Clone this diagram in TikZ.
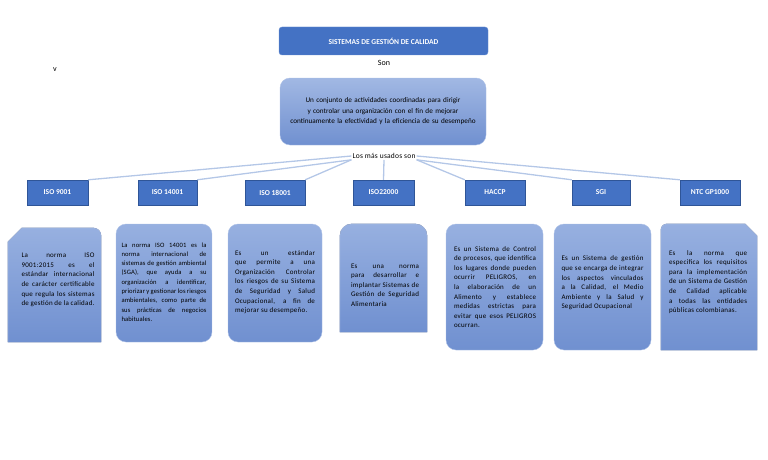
\documentclass[tikz,border=0pt]{standalone}
\usepackage{fontspec}
\setmainfont{Carlito}
\usetikzlibrary{shadows}
\definecolor{hdr}{HTML}{4472C4}
\definecolor{hdrd}{HTML}{2F5597}
\definecolor{lt}{HTML}{97B0E0}
\definecolor{ltd}{HTML}{7090D0}
\definecolor{ln}{HTML}{B4C7E7}
\lefthyphenmin=62
\righthyphenmin=62
\tikzset{
  hbox/.style={fill=hdr,draw=hdrd,text=white,font=\bfseries\fontsize{7.5}{8}\selectfont,minimum height=25pt,inner sep=1pt,drop shadow={shadow xshift=1pt,shadow yshift=-1pt,opacity=0.5}},
  dtext/.style={font=\fontsize{7}{9.6}\selectfont\addfontfeatures{LetterSpace=4},align=justify,inner sep=0pt},
  dshape/.style={top color=lt,bottom color=ltd,draw=lt!80!white},
  conn/.style={draw=ln,line width=1.3pt},
}
\begin{document}
\begin{tikzpicture}[x=1pt,y=-1pt]
\useasboundingbox (0,0) rectangle (768,460);
\node[fill=hdr,draw=hdr!80!white,rounded corners=3pt,minimum width=209pt,minimum height=28pt,text=white,font=\bfseries\fontsize{7.5}{8}\selectfont] (title) at (383.5,41) {SISTEMAS DE GESTIÓN DE CALIDAD};
\node[font=\fontsize{8}{9}\selectfont] (son) at (384,63) {Son};
\node[font=\fontsize{8}{9}\selectfont] (v) at (55,70) {v};
\node[top color=lt!90!white,bottom color=ltd,draw=lt!80!white,rounded corners=10pt,minimum width=206pt,minimum height=67pt,text width=196pt,align=center,font=\fontsize{7.2}{10.5}\selectfont] (main) at (383,111.5) {Un conjunto de actividades coordinadas para dirigir y controlar una organización con el fin de mejorar continuamente la efectividad y la eficiencia de su desempeño};
\node[font=\fontsize{7.5}{8}\selectfont\addfontfeatures{LetterSpace=3},inner sep=1pt] (mas) at (384,156) {Los más usados son};
\foreach \n/\x/\w/\t in {h1/57.5/61/ISO 9001,h2/167.5/59/ISO 14001,h3/275/60/ISO 18001,h4/383.5/61/ISO22000,h5/495/60/HACCP,h6/601/58/SGI,h7/710/60/NTC GP1000}
  \node[hbox,minimum width=\w pt] (\n) at (\x,192.5) {\t};
\draw[conn] (mas.west) -- (h1.north east);
\draw[conn] (mas.south west) -- (h2.north east);
\draw[conn] (mas.south west) -- (h3.north east);
\draw[conn] (mas.south) -- (h4.north);
\draw[conn] (mas.south east) -- (h5.north west);
\draw[conn] (mas.south east) -- (h6.north west);
\draw[conn] (mas.east) -- (h7.north west);
% description boxes
\node[minimum width=93pt,minimum height=114pt,inner sep=0pt] (d1) at (54.5,285) {};
\fill[dshape] (d1.south west) -- ([yshift=-14pt]d1.north west) -- ([xshift=14pt]d1.north west) -- ([xshift=-8pt]d1.north east) to[out=0,in=90] ([yshift=-8pt]d1.north east) -- (d1.south east) -- cycle;
\node[dtext,text width=73pt] at (58,280) {La norma ISO 9001:2015 es el estándar internacional de carácter certificable que regula los sistemas de gestión de la calidad.};
\node[dshape,rounded corners=10pt,minimum width=96pt,minimum height=118pt] (d2) at (164,283) {};
\node[dtext,text width=85pt,font=\fontsize{6.6}{9.3}\selectfont\addfontfeatures{LetterSpace=2}] at (164,282) {La norma ISO 14001 es la norma internacional de sistemas de gestión ambiental (SGA), que ayuda a su organización a identificar, priorizar y gestionar los riesgos ambientales, como parte de sus prácticas de negocios habituales.};
\node[dshape,rounded corners=10pt,minimum width=94pt,minimum height=118pt] (d3) at (275,283) {};
\node[dtext,text width=80pt] at (275,282) {Es un estándar que permite a una Organización Controlar los riesgos de su Sistema de Seguridad y Salud Ocupacional, a fin de mejorar su desempeño.};
\node[minimum width=87pt,minimum height=108pt,inner sep=0pt] (d4) at (383.5,278) {};
\fill[dshape] (d4.south west) -- ([yshift=-12pt]d4.north west) to[out=90,in=180] ([xshift=12pt]d4.north west) -- ([xshift=-12pt]d4.north east) to[out=0,in=90] ([yshift=-12pt]d4.north east) -- (d4.south east) -- cycle;
\node[dtext,text width=68pt] at (385,285) {Es una norma para desarrollar e implantar Sistemas de Gestión de Seguridad Alimentaria};
\node[dshape,rounded corners=10pt,minimum width=97pt,minimum height=126pt] (d5) at (494.5,287) {};
\node[dtext,text width=82pt] at (495,287) {Es un Sistema de Control de procesos, que identifica los lugares donde pueden ocurrir PELIGROS, en la elaboración de un Alimento y establece medidas estrictas para evitar que esos PELIGROS ocurran.};
\node[dshape,rounded corners=10pt,minimum width=97pt,minimum height=126pt] (d6) at (602.5,287) {};
\node[dtext,text width=82pt] at (602.5,283) {Es un Sistema de gestión que se encarga de integrar los aspectos vinculados a la Calidad, el Medio Ambiente y la Salud y Seguridad Ocupacional};
\node[minimum width=96pt,minimum height=126pt,inner sep=0pt] (d7) at (709,287) {};
\fill[dshape] (d7.south west) -- ([yshift=-6pt]d7.north west) to[out=90,in=180] ([xshift=6pt]d7.north west) -- ([xshift=-12pt]d7.north east) -- ([yshift=-12pt]d7.north east) -- (d7.south east) -- cycle;
\node[dtext,text width=78pt] at (708,282) {Es la norma que especifica los requisitos para la implementación de un Sistema de Gestión de Calidad aplicable a todas las entidades públicas colombianas.};
\end{tikzpicture}
\end{document}
